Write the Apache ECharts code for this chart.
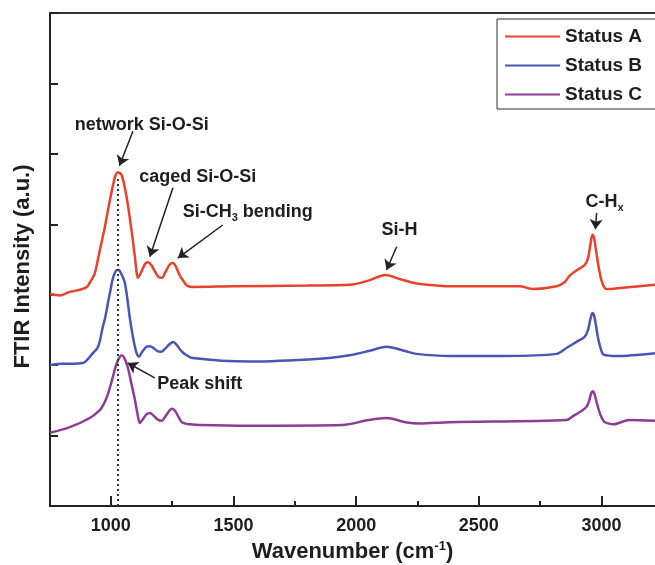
<!DOCTYPE html>
<html>
<head>
<meta charset="utf-8">
<script src="https://cdn.jsdelivr.net/npm/echarts@6/dist/echarts.min.js"></script>
<style>
  html, body { margin: 0; padding: 0; background: #fff; }
  #chart { width: 655px; height: 565px; }
</style>
</head>
<body>
<div id="chart"></div>
<script>
// Wavenumber ticks (cm-1)
const majorTicks = [1000, 1500, 2000, 2500, 3000];
const minorTicks = [1250, 1750, 2250, 2750];

// Status A (offset spectrum, arbitrary units)
const waveA = [752, 793, 833, 874, 902, 914, 934, 955, 976, 996, 1016, 1028, 1044, 1064, 1084, 1098, 1111,
  1125, 1140, 1151, 1165, 1180, 1195, 1208, 1222, 1240, 1253, 1265, 1280, 1293, 1310, 1330,
  1500, 1800, 1973, 2050, 2120, 2180, 2246, 2400, 2666, 2719,
  2817, 2850, 2870, 2900, 2931, 2945, 2955, 2963, 2970, 2978, 2988, 3000, 3012, 3020, 3086, 3218];
const statusA = [3.01, 2.99, 3.04, 3.07, 3.11, 3.17, 3.30, 3.63, 3.97, 4.34, 4.66, 4.74, 4.70, 4.39, 3.92, 3.54, 3.24,
  3.33, 3.44, 3.46, 3.42, 3.33, 3.25, 3.24, 3.32, 3.43, 3.45, 3.40, 3.28, 3.21, 3.13, 3.11,
  3.12, 3.13, 3.14, 3.20, 3.28, 3.22, 3.16, 3.12, 3.12, 3.08,
  3.12, 3.18, 3.27, 3.35, 3.42, 3.52, 3.72, 3.85, 3.80, 3.62, 3.40, 3.20, 3.10, 3.08, 3.10, 3.14];

// Status B
const waveB = [752, 800, 833, 886, 927, 945, 955, 967, 976, 984, 990, 996, 1006, 1016, 1025, 1033, 1042, 1049,
  1057, 1067, 1077, 1088, 1098, 1106, 1114, 1128, 1145, 1160, 1175, 1190, 1205, 1220, 1240, 1255, 1270,
  1285, 1300, 1334, 1566, 1850, 1973, 2050, 2124, 2200, 2246, 2381, 2600,
  2817, 2860, 2898, 2931, 2945, 2955, 2963, 2970, 2978, 2988, 3000, 3008, 3061, 3218];
const statusB = [2.00, 2.02, 2.02, 2.03, 2.17, 2.24, 2.34, 2.54, 2.66, 2.80, 2.92, 3.02, 3.20, 3.31, 3.35, 3.35, 3.30, 3.25,
  3.17, 2.95, 2.68, 2.44, 2.26, 2.16, 2.12, 2.19, 2.26, 2.27, 2.24, 2.20, 2.19, 2.23, 2.30, 2.33, 2.28,
  2.21, 2.16, 2.10, 2.05, 2.09, 2.14, 2.20, 2.26, 2.20, 2.16, 2.13, 2.13,
  2.16, 2.25, 2.33, 2.40, 2.50, 2.66, 2.74, 2.70, 2.55, 2.35, 2.20, 2.15, 2.13, 2.17];

// Status C
const waveC = [752, 833, 914, 955, 970, 984, 996, 1008, 1018, 1029, 1037, 1045, 1055, 1069, 1083, 1098, 1108,
  1118, 1128, 1145, 1159, 1172, 1190, 1208, 1222, 1240, 1250, 1262, 1275, 1289, 1305, 1322, 1362,
  1566, 1945, 2050, 2124, 2200, 2259, 2381,
  2857, 2885, 2910, 2939, 2950, 2958, 2965, 2972, 2982, 2995, 3010, 3020, 3045, 3114, 3218];
const statusC = [1.04, 1.12, 1.25, 1.36, 1.44, 1.55, 1.68, 1.83, 1.96, 2.07, 2.12, 2.14, 2.10, 1.97, 1.75, 1.51, 1.32,
  1.18, 1.22, 1.30, 1.32, 1.29, 1.23, 1.21, 1.27, 1.36, 1.38, 1.35, 1.27, 1.19, 1.17, 1.16, 1.15,
  1.14, 1.15, 1.22, 1.25, 1.19, 1.17, 1.19,
  1.22, 1.28, 1.33, 1.41, 1.50, 1.60, 1.63, 1.58, 1.45, 1.30, 1.20, 1.18, 1.16, 1.22, 1.21];

// Peak annotations: label position and arrow (from -> tip) in data units
const annotations = [
  { text: 'network Si-O-Si', at: [1126, 5.41], from: [1090, 5.32], to: [1035, 4.83] },
  { text: 'caged Si-O-Si', at: [1354, 4.67], from: [1253, 4.52], to: [1159, 3.54] },
  { text: 'Si-CH{sub|3} bending', at: [1558, 4.17], from: [1456, 3.99], to: [1273, 3.52] },
  { text: 'Si-H', at: [2177, 3.92], from: [2165, 3.68], to: [2124, 3.35] },
  { text: 'C-H{sub|x}', at: [3012, 4.32], from: [2980, 4.16], to: [2975, 3.93] },
  { text: 'Peak shift', at: [1362, 1.73], from: [1179, 1.82], to: [1069, 2.03] }
];
const shiftLineX = 1030;

const font = 'Liberation Sans, Arial, sans-serif';
const ink = '#1e1e1e';

const toPairs = (xs, ys) => xs.map((x, i) => [x, ys[i]]);

const chart = echarts.init(document.getElementById('chart'));

const option = {
  animation: false,
  grid: { left: 50, right: 0, top: 13, bottom: 59, outerBoundsMode: 'none' },
  legend: {
    data: ['Status A', 'Status B', 'Status C'],
    orient: 'vertical',
    left: 497,
    top: 19,
    icon: 'rect',
    itemWidth: 55,
    itemHeight: 2,
    itemGap: 10,
    padding: [8, 14, 5, 8],
    borderColor: '#333',
    borderWidth: 1,
    backgroundColor: '#fff',
    textStyle: { fontFamily: font, fontWeight: 'bold', fontSize: 19, color: ink }
  },
  xAxis: [
    {
      type: 'value',
      min: 752,
      max: 3218,
      position: 'bottom',
      name: 'Wavenumber (cm{sup|-1})',
      nameLocation: 'middle',
      nameGap: 34,
      nameTextStyle: {
        fontFamily: font, fontWeight: 'bold', fontSize: 22, color: ink,
        rich: { sup: { fontFamily: font, fontWeight: 'bold', fontSize: 13, color: ink, verticalAlign: 'top', padding: [0, 0, 10, 0] } }
      },
      axisLine: { lineStyle: { color: '#222', width: 2 } },
      axisTick: { inside: true, length: 10, lineStyle: { color: '#222', width: 2 }, customValues: majorTicks },
      axisLabel: {
        margin: 11, fontFamily: font, fontWeight: 'bold', fontSize: 18, color: ink,
        customValues: majorTicks, formatter: v => String(v)
      },
      splitLine: { show: false }
    },
    {
      type: 'value',
      min: 752,
      max: 3218,
      position: 'bottom',
      axisLine: { show: false },
      axisTick: { inside: true, length: 5, lineStyle: { color: '#222', width: 2 }, customValues: minorTicks },
      axisLabel: { show: false },
      splitLine: { show: false }
    },
    {
      type: 'value',
      min: 752,
      max: 3218,
      position: 'top',
      axisLine: { lineStyle: { color: '#333', width: 2 } },
      axisTick: { show: false },
      axisLabel: { show: false },
      splitLine: { show: false }
    }
  ],
  yAxis: {
    type: 'value',
    min: 0,
    max: 7,
    interval: 1,
    name: 'FTIR Intensity (a.u.)',
    nameLocation: 'middle',
    nameGap: 16,
    nameTextStyle: { fontFamily: font, fontWeight: 'bold', fontSize: 22, color: ink, padding: [0, 14, 0, 0] },
    axisLine: { show: true, lineStyle: { color: '#222', width: 2 } },
    axisTick: { inside: true, length: 8, lineStyle: { color: '#222', width: 2 } },
    axisLabel: { show: false },
    splitLine: { show: false }
  },
  series: [
    {
      name: 'Status A',
      type: 'line',
      data: toPairs(waveA, statusA),
      symbol: 'none',
      smooth: 0.3,
      color: '#e8412c',
      lineStyle: { width: 2.5 },
      z: 3,
      markLine: {
        silent: true,
        symbol: ['none', 'arrow'],
        symbolSize: 10,
        label: { show: false },
        lineStyle: { color: '#222', width: 1.5, type: 'solid' },
        data: annotations.map(a => [{ coord: a.from }, { coord: a.to }])
          .concat([[{ coord: [shiftLineX, 0], symbol: 'none' },
                    { coord: [shiftLineX, 4.67], symbol: 'none', lineStyle: { type: [2, 3], width: 2, color: '#333' } }]])
      },
      markPoint: {
        silent: true,
        symbol: 'circle',
        symbolSize: 0,
        data: annotations.map(a => ({
          coord: a.at,
          label: {
            show: true,
            position: 'inside',
            formatter: a.text,
            fontFamily: font,
            fontWeight: 'bold',
            fontSize: 18,
            color: ink,
            rich: {
              sub: { fontFamily: font, fontWeight: 'bold', fontSize: 11, color: ink, verticalAlign: 'bottom', padding: [12, 0, 0, 0] }
            }
          }
        }))
      }
    },
    {
      name: 'Status B',
      type: 'line',
      data: toPairs(waveB, statusB),
      symbol: 'none',
      smooth: 0.3,
      color: '#4a55b5',
      lineStyle: { width: 2.5 }
    },
    {
      name: 'Status C',
      type: 'line',
      data: toPairs(waveC, statusC),
      symbol: 'none',
      smooth: 0.3,
      color: '#8e3b93',
      lineStyle: { width: 2.5 }
    }
  ]
};

chart.setOption(option);
</script>
</body>
</html>
